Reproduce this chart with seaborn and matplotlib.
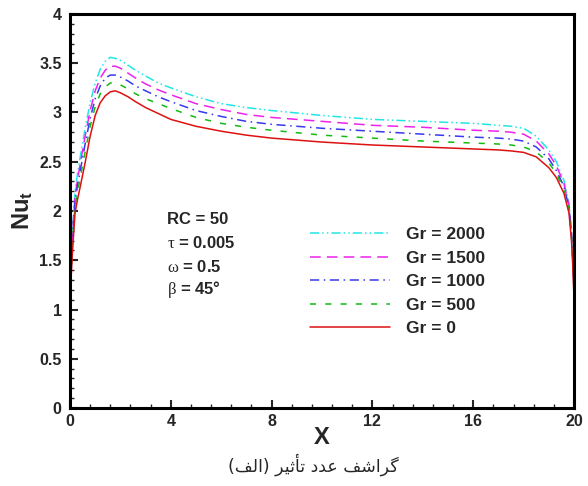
import numpy as np
import pandas as pd
import matplotlib
matplotlib.use("Agg")
import matplotlib.pyplot as plt
import seaborn as sns
from matplotlib.ticker import MultipleLocator

# ---------------- data ----------------
x_vals = [0, 0.05, 0.1, 0.2, 0.3, 0.4, 0.6, 0.8, 1.0, 1.2, 1.4, 1.6, 1.8, 2.0,
          2.3, 2.6, 3.0, 3.5, 4, 5, 6, 7, 8, 10, 12, 14, 16, 17, 17.5, 18,
          18.5, 19, 19.3, 19.6, 19.8, 19.9, 19.95, 20]

nu_gr0 = [1.0, 1.35, 1.60, 1.98, 2.12, 2.24, 2.49, 2.76, 2.97, 3.10, 3.17, 3.21, 3.22, 3.20,
          3.16, 3.11, 3.05, 2.99, 2.93, 2.86, 2.81, 2.77, 2.74, 2.70, 2.67, 2.65, 2.63, 2.62, 2.61, 2.595,
          2.55, 2.44, 2.34, 2.18, 1.98, 1.70, 1.45, 1.12]
nu_gr500 = [1.0, 1.40, 1.68, 2.05, 2.20, 2.33, 2.60, 2.86, 3.06, 3.19, 3.26, 3.30, 3.30, 3.28,
            3.24, 3.19, 3.14, 3.09, 3.04, 2.95, 2.89, 2.85, 2.82, 2.77, 2.74, 2.71, 2.69, 2.68, 2.67, 2.65,
            2.60, 2.49, 2.38, 2.22, 2.02, 1.74, 1.50, 1.18]
nu_gr1000 = [1.0, 1.43, 1.72, 2.10, 2.26, 2.40, 2.68, 2.94, 3.14, 3.27, 3.35, 3.38, 3.38, 3.36,
             3.32, 3.27, 3.22, 3.16, 3.11, 3.02, 2.96, 2.91, 2.88, 2.84, 2.81, 2.78, 2.75, 2.74, 2.73, 2.71,
             2.65, 2.53, 2.41, 2.25, 2.04, 1.76, 1.52, 1.20]
nu_gr1500 = [1.0, 1.46, 1.76, 2.15, 2.32, 2.47, 2.76, 3.02, 3.22, 3.35, 3.43, 3.47, 3.47, 3.45,
             3.40, 3.35, 3.29, 3.23, 3.18, 3.09, 3.03, 2.98, 2.95, 2.91, 2.87, 2.85, 2.82, 2.81, 2.80, 2.78,
             2.71, 2.58, 2.46, 2.28, 2.06, 1.78, 1.55, 1.25]
nu_gr2000 = [1.0, 1.50, 1.80, 2.20, 2.38, 2.54, 2.84, 3.10, 3.30, 3.44, 3.52, 3.56, 3.55, 3.53,
             3.48, 3.43, 3.37, 3.30, 3.25, 3.16, 3.09, 3.05, 3.02, 2.97, 2.93, 2.91, 2.89, 2.87, 2.86, 2.84,
             2.76, 2.62, 2.50, 2.31, 2.08, 1.80, 1.58, 1.30]

series_labels = ["Gr = 2000", "Gr = 1500", "Gr = 1000", "Gr = 500", "Gr = 0"]
series_values = [nu_gr2000, nu_gr1500, nu_gr1000, nu_gr500, nu_gr0]

x_ticks = [0, 4, 8, 12, 16, 20]
y_ticks = [0, 0.5, 1, 1.5, 2, 2.5, 3, 3.5, 4]
y_tick_labels = ["0", "0.5", "1", "1.5", "2", "2.5", "3", "3.5", "4"]

param_lines = ["RC = 50", r"$\tau$ = 0.005", r"$\omega$ = 0.5", r"$\beta$ = 45°"]

# caption "(الف) تأثیر عدد گراشف" in shaped presentation forms, visual order
cap_alef = "\uFED2\uFEDF\uFE8D"
cap_tasir = "\uFEAE\uFEF4\uFE9B\uFE84\uFE97"
cap_adad = "\uFEA9\uFEAA\uFECB"
cap_grashof = "\uFED2\uFEB7\uFE8D\uFEAE\uFB94"
caption = "(" + cap_alef + ") " + cap_tasir + " " + cap_adad + " " + cap_grashof

# ---------------- styling ----------------
sns.set_theme(style="white")
plt.rcParams["font.family"] = ["Liberation Sans", "DejaVu Sans"]
plt.rcParams["mathtext.fontset"] = "custom"
plt.rcParams["mathtext.rm"] = "Liberation Serif"
plt.rcParams["mathtext.it"] = "Liberation Serif"
plt.rcParams["mathtext.bf"] = "Liberation Sans:bold"

colors = {"Gr = 2000": "#22e6e6", "Gr = 1500": "#ee22ee", "Gr = 1000": "#3838ee",
          "Gr = 500": "#11bb11", "Gr = 0": "#dd1111"}
dashes = {"Gr = 2000": (6, 2, 1, 2, 1, 2), "Gr = 1500": (7, 4), "Gr = 1000": (6, 3, 1, 3),
          "Gr = 500": (4, 6), "Gr = 0": ""}

rows = []
for lab, vals in zip(series_labels, series_values):
    for xv, yv in zip(x_vals, vals):
        rows.append({"X": xv, "Nu": yv, "Gr": lab})
df = pd.DataFrame(rows)

fig = plt.figure(figsize=(5.88, 4.86), dpi=100)
ax = fig.add_axes([70 / 588, 78 / 486, 504 / 588, 394 / 486])

sns.lineplot(data=df, x="X", y="Nu", hue="Gr", style="Gr", hue_order=series_labels,
             style_order=series_labels, palette=colors, dashes=dashes, sort=False,
             linewidth=1.1, legend=False, ax=ax)

ax.set_xlim(0, 20)
ax.set_ylim(0, 4)
ax.xaxis.set_minor_locator(MultipleLocator(0.8))
ax.yaxis.set_minor_locator(MultipleLocator(0.1))
ax.set_xticks(x_ticks)
ax.set_xticklabels([str(t) for t in x_ticks])
ax.set_yticks(y_ticks)
ax.set_yticklabels(y_tick_labels)
ax.tick_params(axis="both", which="major", direction="in", length=6, width=1.5,
               labelsize=11.5, pad=4, top=False, right=False, left=True, bottom=True)
ax.tick_params(axis="y", which="major", pad=6)
ax.tick_params(axis="both", which="minor", direction="in", length=3, width=1.0,
               top=False, right=False, left=True, bottom=True)
for lbl in ax.get_xticklabels() + ax.get_yticklabels():
    lbl.set_fontweight("bold")
for sp in ax.spines.values():
    sp.set_linewidth(2.2)
    sp.set_color("black")

ax.set_xlabel("X", fontsize=17, fontweight="bold", labelpad=-2)
ax.set_ylabel(r"Nu$_{\mathbf{t}}$", fontsize=17, fontweight="bold", labelpad=3)

# parameter annotation
for i, t in enumerate(param_lines):
    ax.text(3.85, 1.91 - i * 0.237, t, fontsize=12, fontweight="bold",
            va="center", ha="left")

handles = ax.get_lines()[:len(series_labels)]
leg = ax.legend(handles, series_labels, loc="upper left",
                bbox_to_anchor=(0.476, 0.459), frameon=False, borderpad=0,
                borderaxespad=0, handlelength=4.6, handletextpad=0.95,
                labelspacing=0.48, prop={"weight": "bold", "size": 12.5})

fig.text(0.532, 0.043, caption, fontsize=12.5, ha="center", va="center",
         family=["DejaVu Sans"])

fig.savefig("out.png", dpi=100)
